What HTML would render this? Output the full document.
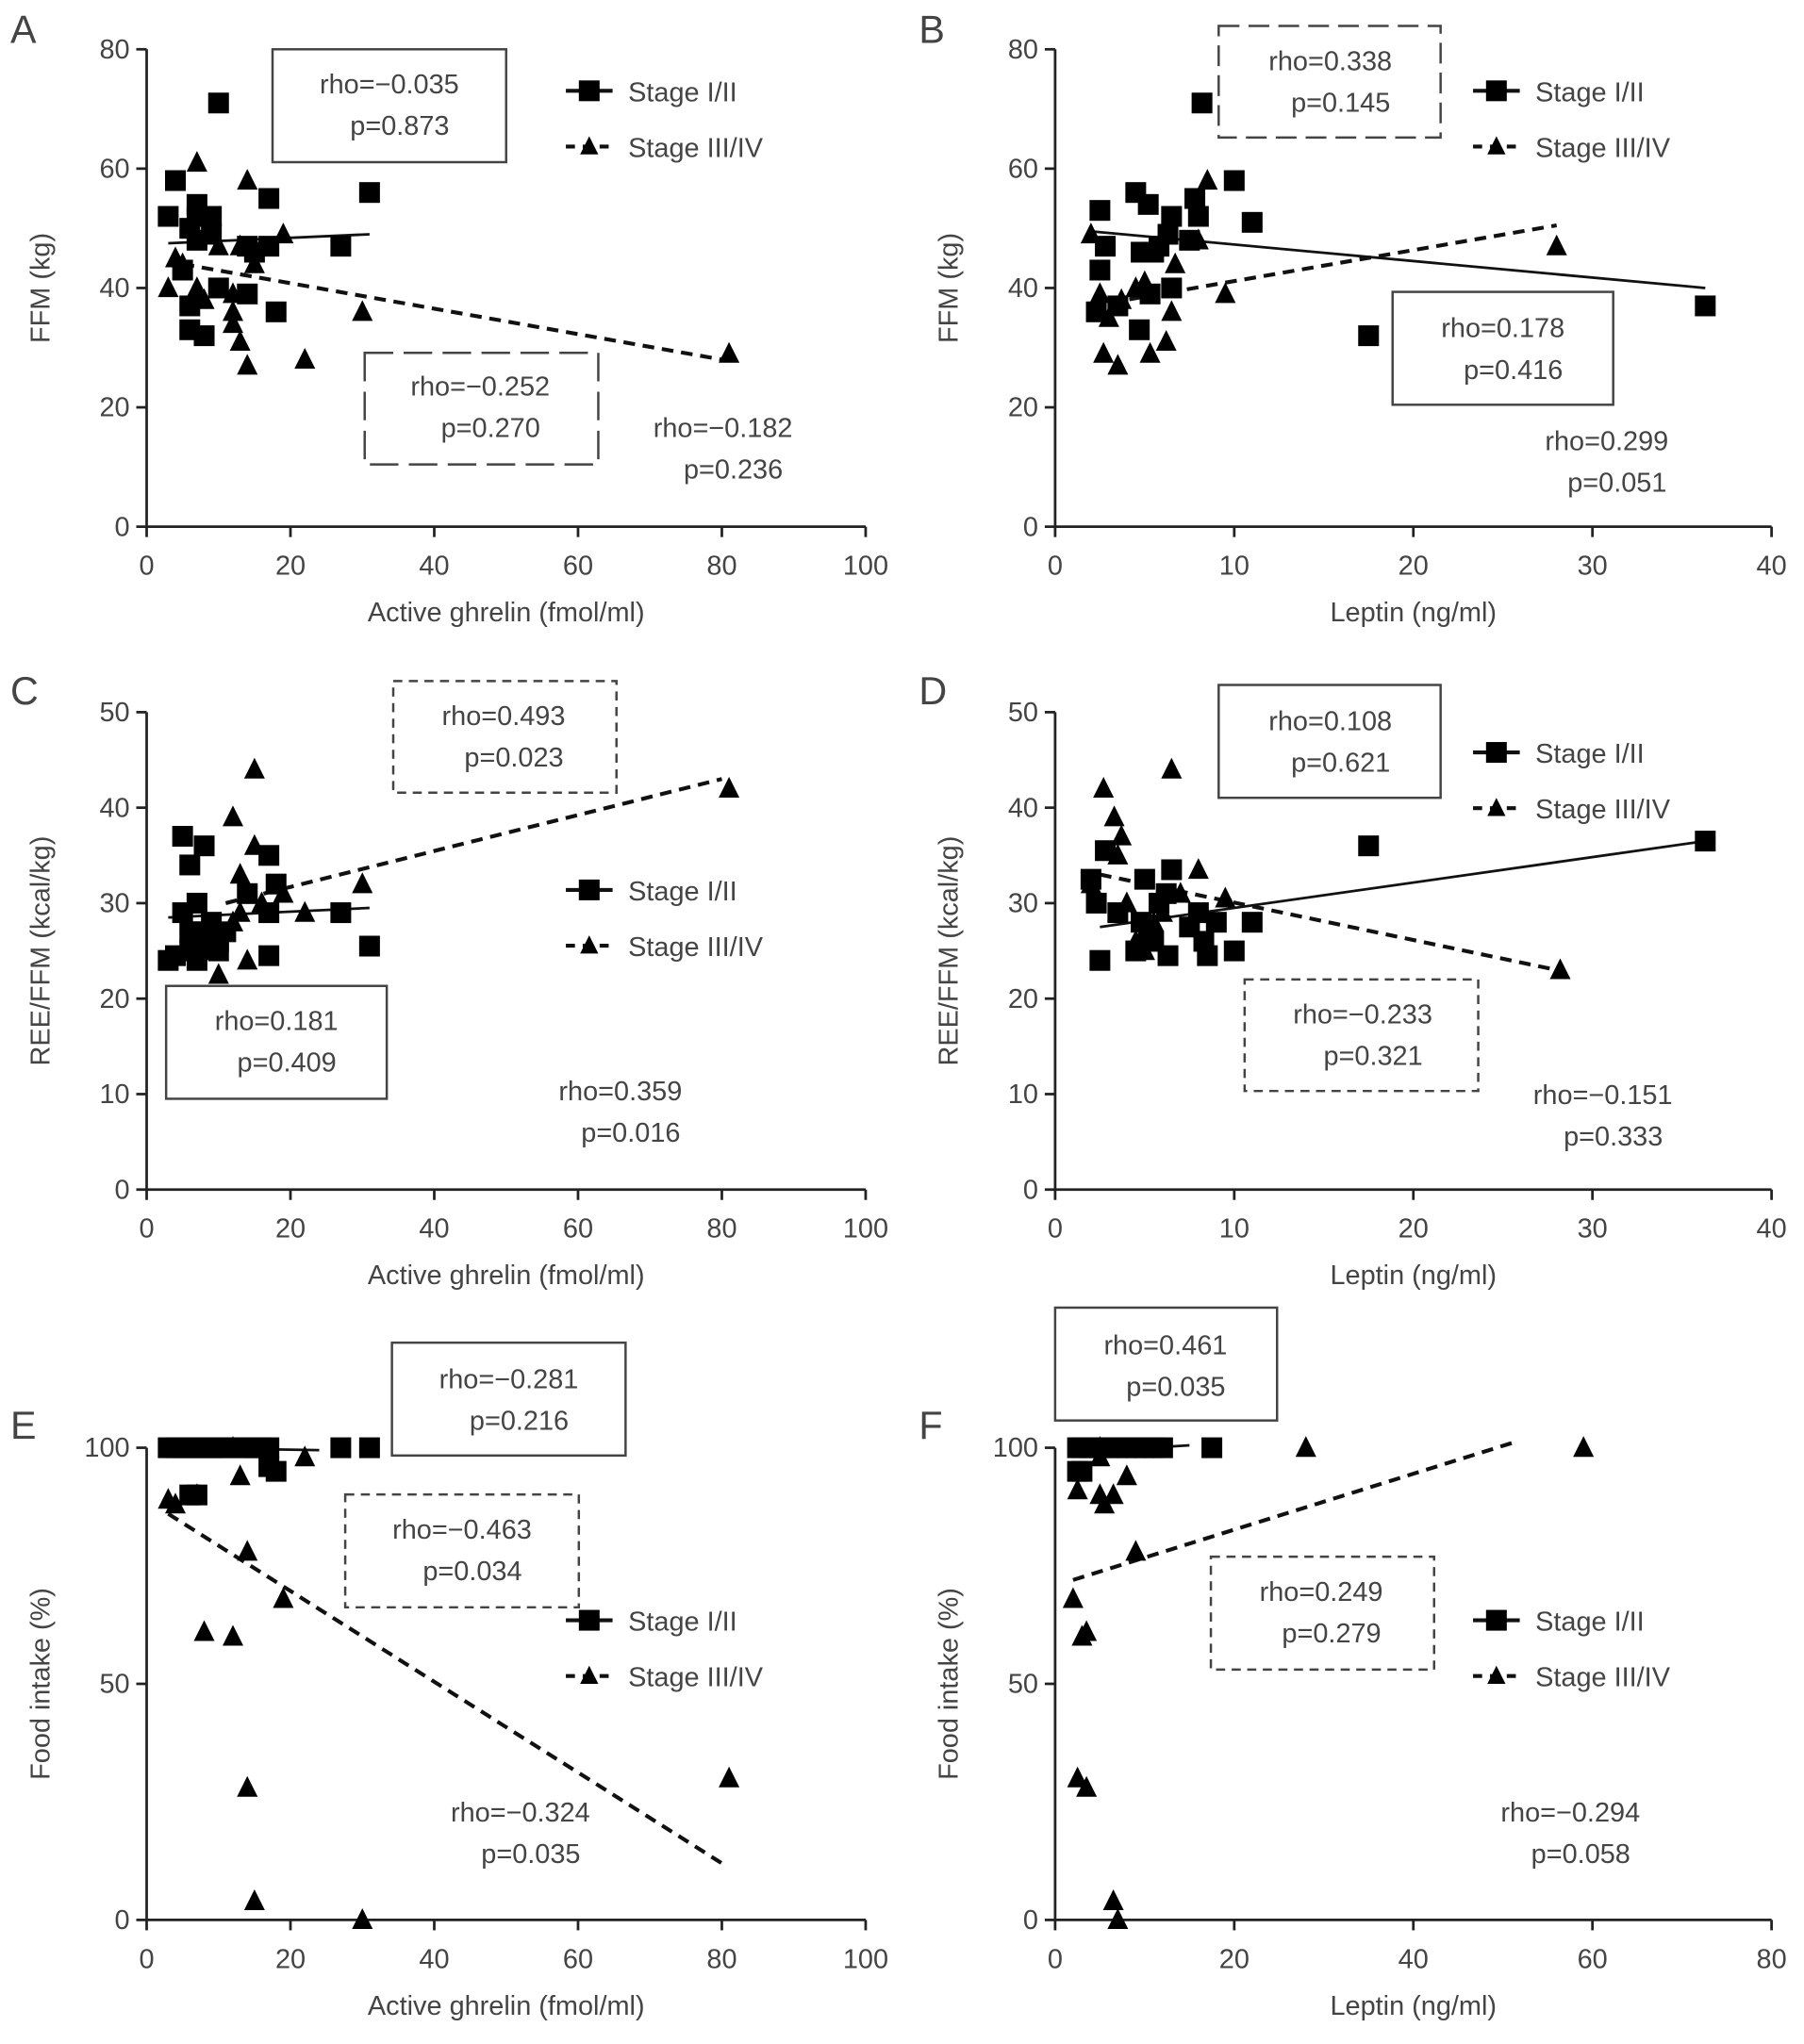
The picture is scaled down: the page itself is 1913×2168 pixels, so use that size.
<!DOCTYPE html>
<html><head><meta charset="utf-8"><style>
body{margin:0;background:#fff}
svg text{font-family:"Liberation Sans",sans-serif;fill:#444}
</style></head><body>
<svg id="fig" width="1913" height="2163" viewBox="0 0 1390 1572" preserveAspectRatio="none" xmlns="http://www.w3.org/2000/svg"></svg>
<script>
// ---- data ----
const aSqX=[3,4,5,6,6,6,7,7,8,9,9,10,10,14,14,15,17,17,18,27,31,7];
const aSqY=[52,58,43,37,50,33,54,52,32,52,49,71,40,39,47,46,55,47,36,47,56,48];
const aTrX=[3,4,7,7,8,10,12,12,12,13,14,14,15,19,22,30,81,5,13];
const aTrY=[40,45,61,40,38,47,39,36,34,31,58,27,44,49,28,36,29,44,47];
const bSqX=[2.3,2.5,2.5,2.8,3.5,4.5,4.7,4.8,5.2,5.3,5.5,5.8,6.3,6.5,6.5,7.5,8.2,7.8,8,10,11,17.5,36.3];
const bSqY=[36,53,43,47,37,56,33,46,54,39,46,47,49,52,40,48,71,55,52,58,51,32,37];
const bTrX=[2,2.5,2.7,3.5,3.7,4.5,5.3,6.2,6.5,6.7,8,8.5,9.5,28,3,5];
const bTrY=[49,39,29,27,38,40,29,31,36,44,48,58,39,47,35,41];
const cSqX=[3,4,5,5,6,6,6,7,7,8,8,9,9,10,10,11,14,17,17,17,18,27,31,7];
const cSqY=[24,24.5,37,29,34,25,27,30,24,36,27,28,26,26,25,27,31,35,29,24.5,32,29,25.5,26];
const cTrX=[10,12,13,13,14,14,15,15,16,19,22,30,81,12,9];
const cTrY=[22.5,39,33,29,31,24,44,36,30,31,29,32,42,28,25];
const dSqX=[2,2.3,2.5,2.8,3.5,4.5,4.8,5,5.2,5.5,5.8,6.2,6.5,6.3,7.5,8,8.3,8.5,9,10,11,17.5,36.3];
const dSqY=[32.5,30,24,35.5,29,25,28,32.5,27,26,30,31,33.5,24.5,27.5,29,26,24.5,28,25,28,36,36.5];
const dTrX=[2,2.7,3.3,3.7,4,4.5,5,5.5,6.5,7,8,8.5,9.5,28.2,3.5,6];
const dTrY=[32,42,39,37,30,26,25,28,44,31,33.5,25,30.5,23,35,29];
const eSqX=[3,4,5,6,7,8,9,10,11,13,14,15,16,17,27,31,6,7,17,18];
const eSqY=[100,100,100,100,100,100,100,100,100,100,100,100,100,100,100,100,90,90,96,95];
const eTrX=[3,4,7,8,12,13,14,14,15,19,22,30,81,12];
const eTrY=[89,88,90,61,60,94,78,28,4,68,98,0,30,100];
const fSqX=[2.5,3,4,5,6,7,8,9,10,11,12,17.5,2.5,3];
const fSqY=[100,100,100,100,100,100,100,100,100,100,100,100,95,95];
const fTrX=[2,2.5,3,3.5,2.5,3.5,5,5,5.5,6.5,8,9,6.5,7,28,59,5];
const fTrY=[68,91,60,61,30,28,100,90,88,90,94,78,4,0,100,100,98];
const xTicksG=[0,20,40,60,80,100], xTicksL=[0,10,20,30,40], xTicksF=[0,20,40,60,80];
const yTicksFFM=[0,20,40,60,80], yTicksREE=[0,10,20,30,40,50], yTicksFood=[0,50,100];

const NS="http://www.w3.org/2000/svg", svg=document.getElementById('fig');
function mk(tag,attrs,parent,txt){const e=document.createElementNS(NS,tag);for(const k in attrs)e.setAttribute(k,attrs[k]);if(txt!==undefined)e.textContent=txt;(parent||svg).appendChild(e);return e;}

function panel(p){
  const g=mk('g',{});
  
  
  const sx=v=>p.x0+(v-p.xmin)/(p.xmax-p.xmin)*(p.x1-p.x0);
  const sy=v=>p.y0-(v-p.ymin)/(p.ymax-p.ymin)*(p.y0-p.y1);
  const lab=mk('text',{x:p.lx,y:p.ly,'font-size':30,fill:'#222'},g,p.id);
  
  const ax=mk('g',{stroke:'#222','stroke-width':2},g);
  
  mk('line',{x1:p.x0,y1:p.y0,x2:p.x0,y2:p.y1},ax);
  mk('line',{x1:p.x0,y1:p.y0,x2:p.x1,y2:p.y0},ax);
  p.xt.forEach(t=>{mk('line',{x1:sx(t),y1:p.y0,x2:sx(t),y2:p.y0+8},ax);
    const e=mk('text',{x:sx(t),y:p.y0+37,'font-size':21,'text-anchor':'middle'},g,t);
    });
  p.yt.forEach(t=>{mk('line',{x1:p.x0-8,y1:sy(t),x2:p.x0,y2:sy(t)},ax);
    const e=mk('text',{x:p.x0-13,y:sy(t)+7,'font-size':21,'text-anchor':'end'},g,t);
    });
  const xt=mk('text',{x:(p.x0+p.x1)/2,y:p.y0+73,'font-size':21,'text-anchor':'middle'},g,p.xl);
  
  const ycy=(p.y0+p.y1)/2;
  const yt=mk('text',{x:p.x0-75,y:ycy,'font-size':21,'text-anchor':'middle',transform:`rotate(-90 ${p.x0-75} ${ycy})`},g,p.yl);
  
  // fit lines
  const ls=mk('line',{x1:sx(p.sl[0]),y1:sy(p.sl[1]),x2:sx(p.sl[2]),y2:sy(p.sl[3]),stroke:'#111','stroke-width':2},g);
  
  const ld=mk('line',{x1:sx(p.dl[0]),y1:sy(p.dl[1]),x2:sx(p.dl[2]),y2:sy(p.dl[3]),stroke:'#111','stroke-width':3,'stroke-dasharray':'9,6'},g);
  
  p.sqx.forEach((v,i)=>{const r=mk('rect',{x:sx(v)-8,y:sy(p.sqy[i])-8,width:16,height:16,fill:'#000'},g);
    });
  p.trx.forEach((v,i)=>{const cx=sx(v),cy=sy(p.try_[i]);
    const t=mk('polygon',{points:`${cx},${cy-9} ${cx-8},${cy+7} ${cx+8},${cy+7}`,fill:'#000'},g);
    });
  // boxes
  p.boxes.forEach(b=>{
    if(b.s){const r=mk('rect',{x:b.x,y:b.y,width:b.w,height:b.h,fill:'none',stroke:'#444','stroke-width':b.s==='d'?1.8:1.8,'stroke-dasharray':b.s==='d'?(b.dash||'7,5'):'none'},g);
      }
    const t1=mk('text',{x:b.tx,y:b.ty,'font-size':21,'text-anchor':'middle'},g,b.t1);
    
    const t2=mk('text',{x:b.tx+8,y:b.ty+32,'font-size':21,'text-anchor':'middle'},g,b.t2);
    
  });
  // legend
  const lg=mk('g',{},g);
  const L=p.leg;
  mk('line',{x1:L[0],y1:L[1],x2:L[0]+36,y2:L[1],stroke:'#111','stroke-width':3},lg);
  mk('rect',{x:L[0]+10,y:L[1]-8,width:16,height:16,fill:'#000'},lg);
  const e1=mk('text',{x:L[0]+48,y:L[1]+8,'font-size':21},lg,'Stage I/II');
  
  mk('line',{x1:L[0],y1:L[1]+43,x2:L[0]+36,y2:L[1]+43,stroke:'#111','stroke-width':3,'stroke-dasharray':'7,6'},lg);
  const c=L[0]+18,cy=L[1]+43;
  mk('polygon',{points:`${c},${cy-8} ${c-7},${cy+6} ${c+7},${cy+6}`,fill:'#000'},lg);
  const e2=mk('text',{x:L[0]+48,y:L[1]+51,'font-size':21},lg,'Stage III/IV');
  
}
const GX={x0:113,x1:667,xmin:0,xmax:100,xt:xTicksG,xl:'Active ghrelin (fmol/ml)'};
const LX={x0:813,x1:1365,xmin:0,xmax:40,xt:xTicksL,xl:'Leptin (ng/ml)'};
const FY={y0:406,y1:38,ymin:0,ymax:80,yt:yTicksFFM,yl:'FFM (kg)'};
const RY={y0:917,y1:549,ymin:0,ymax:50,yt:yTicksREE,yl:'REE/FFM (kcal/kg)'};
const EY={y0:1480,y1:1116,ymin:0,ymax:100,yt:yTicksFood,yl:'Food intake (%)'};
panel(Object.assign({id:'A',lx:8,ly:33,sqx:aSqX,sqy:aSqY,trx:aTrX,try_:aTrY,sl:[3,47.5,31,49],dl:[5,44,80,28],leg:[436,70],
 boxes:[{s:'s',x:210,y:38,w:180,h:87,tx:300,ty:72,t1:'rho=−0.035',t2:'p=0.873'},
        {s:'d',dash:'22,8',x:281,y:272,w:180,h:86,tx:370,ty:305,t1:'rho=−0.252',t2:'p=0.270'},
        {tx:557,ty:337,t1:'rho=−0.182',t2:'p=0.236'}]},GX,FY));
panel(Object.assign({id:'B',lx:708,ly:33,sqx:bSqX,sqy:bSqY,trx:bTrX,try_:bTrY,sl:[2,49.5,36.3,40],dl:[2,37,28,50.5],leg:[1135,70],
 boxes:[{s:'d',dash:'16,7',x:939,y:20,w:171,h:86,tx:1025,ty:54,t1:'rho=0.338',t2:'p=0.145'},
        {s:'s',x:1073,y:225,w:170,h:87,tx:1158,ty:260,t1:'rho=0.178',t2:'p=0.416'},
        {tx:1238,ty:347,t1:'rho=0.299',t2:'p=0.051'}]},LX,FY));
panel(Object.assign({id:'C',lx:8,ly:543,sqx:cSqX,sqy:cSqY,trx:cTrX,try_:cTrY,sl:[3,28.5,31,29.5],dl:[11,30,80,43],leg:[436,686],
 boxes:[{s:'d',x:303,y:525,w:172,h:86,tx:388,ty:559,t1:'rho=0.493',t2:'p=0.023'},
        {s:'s',x:128,y:760,w:170,h:87,tx:213,ty:794,t1:'rho=0.181',t2:'p=0.409'},
        {tx:478,ty:848,t1:'rho=0.359',t2:'p=0.016'}]},GX,RY));
panel(Object.assign({id:'D',lx:708,ly:543,sqx:dSqX,sqy:dSqY,trx:dTrX,try_:dTrY,sl:[2.5,27.5,36.3,36.5],dl:[2.5,33,28,23],leg:[1135,580],
 boxes:[{s:'s',x:939,y:528,w:171,h:87,tx:1025,ty:563,t1:'rho=0.108',t2:'p=0.621'},
        {s:'d',x:959,y:755,w:180,h:86,tx:1050,ty:789,t1:'rho=−0.233',t2:'p=0.321'},
        {tx:1235,ty:851,t1:'rho=−0.151',t2:'p=0.333'}]},LX,RY));
panel(Object.assign({id:'E',lx:8,ly:1109,sqx:eSqX,sqy:eSqY,trx:eTrX,try_:eTrY,sl:[3,100,24,99.5],dl:[3,86,80,12],leg:[436,1249],
 boxes:[{s:'s',x:302,y:1035,w:180,h:87,tx:392,ty:1070,t1:'rho=−0.281',t2:'p=0.216'},
        {s:'d',x:266,y:1152,w:180,h:87,tx:356,ty:1186,t1:'rho=−0.463',t2:'p=0.034'},
        {tx:401,ty:1404,t1:'rho=−0.324',t2:'p=0.035'}]},GX,EY));
panel(Object.assign({id:'F',lx:708,ly:1109,sqx:fSqX,sqy:fSqY,trx:fTrX,try_:fTrY,sl:[2,99,15,100.5],dl:[2,72,51,101],leg:[1135,1249],
 boxes:[{s:'s',x:813,y:1008,w:171,h:87,tx:898,ty:1044,t1:'rho=0.461',t2:'p=0.035'},
        {s:'d',x:933,y:1200,w:172,h:87,tx:1018,ty:1234,t1:'rho=0.249',t2:'p=0.279'},
        {tx:1210,ty:1404,t1:'rho=−0.294',t2:'p=0.058'}]},{x0:813,x1:1365,xmin:0,xmax:80,xt:xTicksF,xl:'Leptin (ng/ml)'},EY));
</script>
</body></html>
